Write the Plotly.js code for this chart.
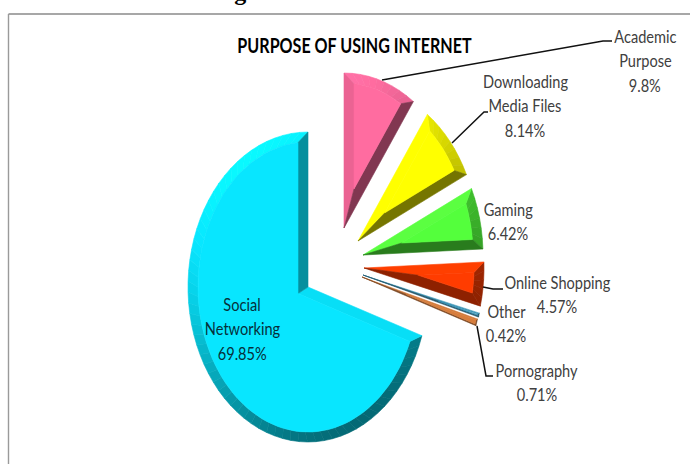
<!DOCTYPE html>
<html>
<head>
<meta charset="utf-8">
<script src="https://cdn.plot.ly/plotly-3.0.1.min.js"></script>
<style>html,body{margin:0;padding:0;background:#fff}#chart{width:690px;height:464px}</style>
</head>
<body>
<div id="chart"></div>
<script>
// Shares of internet use, clockwise from twelve o'clock.
const categories = ["Academic Purpose", "Downloading Media Files", "Gaming", "Online Shopping", "Other", "Pornography", "Social Networking"];
const values = [9.8, 8.14, 6.42, 4.57, 0.42, 0.71, 69.85];
const labelLines = [["Academic", "Purpose"], ["Downloading", "Media Files"], ["Gaming"], ["Online Shopping"], ["Other"], ["Pornography"], ["Social", "Networking"]];

// Styling and placement.
const faceColors = [[255,108,160],[255,255,0],[84,255,60],[255,60,0],[58,150,185],[215,125,60],[8,230,255]];
const explodeOrigin = [[344,228],[358,241],[363,255],[364,268],[363,275],[362,277],[308,287]];
const bevelWidth = [10,10,10,10,1.3,1.3,10];
const labelAnchor = [[645,60],[525,105],[508,221],[557,294],[506,323],[537,382],[242,328]];
const leaderX = [[382,603,612],[452,484,488],[483,493,503],[477,486,493]];
const leaderY = [[80,41,41],[143,112,112],[287,289,289],[326,376,376]];
const RX = 120, RY = 155, LINE_GAP = 24.5;

// Shade of a bevel whose outward normal is (nx, ny) on screen, lit from the upper left.
function shade(rgb, nx, ny) {
  const k = 0.77 - 0.275 * ny - 0.15 * nx;
  return "rgb(" + rgb.map(c => Math.min(255, Math.round(c * k))).join(",") + ")";
}
function rimPoint(o, t, rx, ry) {
  return [o[0] + rx * Math.sin(t), o[1] - ry * Math.cos(t)];
}
function unit(v) {
  const n = Math.hypot(v[0], v[1]);
  return [v[0] / n, v[1] / n];
}
// Where a ray from point p along u meets the ellipse centred on o, as an angle from the top.
function rayHit(p, u, o, rx, ry) {
  const px = (p[0] - o[0]) / rx, py = (p[1] - o[1]) / ry;
  const ux = u[0] / rx, uy = u[1] / ry;
  const a = ux * ux + uy * uy, b = 2 * (px * ux + py * uy), c = px * px + py * py - 1;
  const s = (-b + Math.sqrt(b * b - 4 * a * c)) / (2 * a);
  const q = [p[0] + s * u[0], p[1] + s * u[1]];
  return Math.atan2((q[0] - o[0]) / rx, -(q[1] - o[1]) / ry);
}
function polygon(points, color, name) {
  return {
    type: "scatter", mode: "lines", fill: "toself", fillcolor: color,
    x: points.map(p => p[0]).concat(points[0][0]),
    y: points.map(p => p[1]).concat(points[0][1]),
    line: {color: color, width: 0.6}, hoverinfo: "skip", showlegend: false, name: name
  };
}
function arcPoints(o, from, to, rx, ry) {
  const steps = Math.max(2, Math.ceil(Math.abs(to - from) / (3 * Math.PI / 180)));
  const pts = [];
  for (let i = 0; i <= steps; i++) pts.push(rimPoint(o, from + (to - from) * i / steps, rx, ry));
  return pts;
}

const total = values.reduce((a, b) => a + b, 0);
const traces = [];
let running = 0;
values.forEach((v, i) => {
  const t0 = running / total * 2 * Math.PI;
  running += v;
  const t1 = running / total * 2 * Math.PI;
  const A = explodeOrigin[i], d = bevelWidth[i], rgb = faceColors[i], name = categories[i];
  const P0 = rimPoint(A, t0, RX, RY), P1 = rimPoint(A, t1, RX, RY);
  const u0 = unit([P0[0] - A[0], P0[1] - A[1]]), u1 = unit([P1[0] - A[0], P1[1] - A[1]]);
  const n0 = [-u0[1], u0[0]], n1 = [u1[1], -u1[0]];
  // Inner apex: both straight edges moved inward by the bevel width.
  const det = n0[0] * n1[1] - n0[1] * n1[0];
  const F = [A[0] + d * (n1[1] - n0[1]) / det, A[1] + d * (n0[0] - n1[0]) / det];
  const irx = RX - d, iry = RY - d;
  let f0 = rayHit(F, u0, A, irx, iry), f1 = rayHit(F, u1, A, irx, iry);
  while (f0 < t0 - 0.5) f0 += 2 * Math.PI;
  while (f1 < f0) f1 += 2 * Math.PI;

  // Bevel along the curved rim, in short segments so the shading follows the curve.
  const segs = Math.max(1, Math.ceil((t1 - t0) / (4 * Math.PI / 180)));
  for (let s = 0; s < segs; s++) {
    const a0 = t0 + (t1 - t0) * s / segs, a1 = t0 + (t1 - t0) * (s + 1) / segs;
    const b0 = f0 + (f1 - f0) * s / segs, b1 = f0 + (f1 - f0) * (s + 1) / segs;
    const mid = (a0 + a1) / 2;
    traces.push(polygon(arcPoints(A, a0, a1, RX, RY).concat(arcPoints(A, b1, b0, irx, iry)),
      shade(rgb, Math.sin(mid), -Math.cos(mid)), name + " rim"));
  }
  // Bevels along the two straight edges.
  traces.push(polygon([A, P0, rimPoint(A, f0, irx, iry), F], shade(rgb, -n0[0], -n0[1]), name + " edge"));
  traces.push(polygon([A, P1, rimPoint(A, f1, irx, iry), F], shade(rgb, -n1[0], -n1[1]), name + " edge"));
  // Flat top of the slice.
  traces.push(polygon([F].concat(arcPoints(A, f0, f1, irx, iry)), "rgb(" + rgb.join(",") + ")", name));
});

// Leader lines from slices to their labels.
leaderX.forEach((xs, i) => traces.push({
  type: "scatter", mode: "lines", x: xs, y: leaderY[i],
  line: {color: "#111111", width: 1.5}, hoverinfo: "skip", showlegend: false
}));

// One annotation per text line keeps the label leading independent of the font size.
const annotations = [];
values.forEach((v, i) => {
  const lines = labelLines[i].concat(v + "%");
  lines.forEach((line, j) => annotations.push({
    xref: "x", yref: "y", x: labelAnchor[i][0],
    y: labelAnchor[i][1] + (j - (lines.length - 1) / 2) * LINE_GAP,
    text: line, showarrow: false,
    font: {family: "Lato, sans-serif", size: 18, color: i === 6 ? "#06303a" : "#404040"}
  }));
});
const chartTitle = "PURPOSE OF USING INTERNET";
annotations.push({
  xref: "x", yref: "y", x: 354, y: 45, text: chartTitle, showarrow: false,
  font: {family: "Lato, sans-serif", size: 20, weight: "bold", color: "#000000"}
});
// Page caption running off the top edge.
const pageCaption = "Figure 5";
annotations.push({
  xref: "x", yref: "paper", x: 256, y: 1 - 7 / 464, yanchor: "bottom", text: pageCaption, showarrow: false,
  font: {family: "'Liberation Serif', serif", size: 24, weight: "bold", color: "#000000"}
});

const layout = {
  width: 690, height: 464, margin: {l: 0, r: 0, t: 0, b: 0},
  paper_bgcolor: "#ffffff", plot_bgcolor: "#ffffff", showlegend: false,
  xaxis: {range: [0, 690], visible: false, fixedrange: true},
  yaxis: {range: [464, 0], visible: false, fixedrange: true},
  shapes: [
    {type: "line", xref: "x", yref: "y", x0: 8.5, x1: 690, y0: 14, y1: 14, line: {color: "#8a8a8a", width: 1.6}},
    {type: "line", xref: "x", yref: "y", x0: 8.5, x1: 8.5, y0: 14, y1: 464, line: {color: "#9a9a9a", width: 1.4}}
  ],
  annotations: annotations
};
Plotly.newPlot("chart", traces, layout, {displayModeBar: false, staticPlot: true}).then(() => {
  // Condense the sans-serif labels to a narrow set width.
  document.querySelectorAll(".annotation-text").forEach(t => {
    if (t.textContent === pageCaption) return;
    const factor = t.textContent === chartTitle ? 0.805 : 0.81;
    t.setAttribute("textLength", t.getComputedTextLength() * factor);
    t.setAttribute("lengthAdjust", "spacingAndGlyphs");
  });
});
</script>
</body>
</html>
